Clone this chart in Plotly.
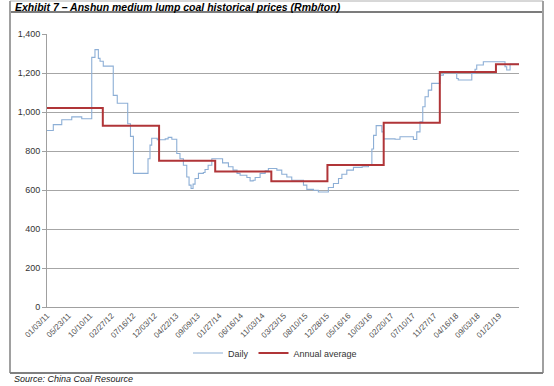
import plotly.graph_objects as go

# ---- data ----
daily_dates = [
    "2011-01-03", "2011-02-13", "2011-04-09", "2011-06-13", "2011-08-17", "2011-10-21",
    "2011-11-11", "2011-12-03", "2011-12-14", "2012-01-04", "2012-03-09", "2012-04-04",
    "2012-06-11", "2012-06-29", "2012-07-18", "2012-10-08", "2012-10-21", "2012-11-03",
    "2012-11-14", "2012-12-20", "2013-02-10", "2013-03-01", "2013-03-25", "2013-04-26",
    "2013-05-17", "2013-06-08", "2013-06-30", "2013-07-15", "2013-07-28", "2013-08-10",
    "2013-08-23", "2013-09-14", "2013-10-16", "2013-10-27", "2013-11-16", "2013-12-10",
    "2014-02-18", "2014-03-28", "2014-04-27", "2014-05-23", "2014-06-12", "2014-07-26",
    "2014-08-16", "2014-09-05", "2014-09-18", "2014-10-20", "2014-11-22", "2014-12-13",
    "2015-02-06", "2015-03-10", "2015-04-12", "2015-05-14", "2015-07-07", "2015-07-29",
    "2015-08-20", "2015-10-02", "2015-11-03", "2015-12-28", "2016-01-07", "2016-02-09",
    "2016-03-13", "2016-04-04", "2016-05-06", "2016-06-18", "2016-08-14", "2016-09-24",
    "2016-10-16", "2016-10-27", "2016-11-13", "2016-12-09", "2016-12-20", "2016-12-31",
    "2017-03-16", "2017-04-17", "2017-07-13", "2017-08-04", "2017-08-25", "2017-09-12",
    "2017-09-27", "2017-10-18", "2017-11-09", "2017-12-22", "2018-01-02", "2018-01-24",
    "2018-04-10", "2018-04-21", "2018-05-01", "2018-07-17", "2018-07-28", "2018-08-18",
    "2018-08-29", "2018-10-11", "2019-02-18", "2019-03-01", "2019-03-12", "2019-04-03",
    "2019-05-31",
]
daily_values = [
    905, 935, 960, 975, 965, 1280,
    1320, 1275, 1260, 1235, 1085, 1045,
    940, 875, 685, 685, 760, 830,
    865, 858, 862, 870, 860, 787,
    760, 727, 667, 625, 608, 630,
    659, 685, 690, 705, 727, 760,
    739, 719, 702, 685, 676, 664,
    647, 650, 664, 685, 698, 710,
    702, 681, 667, 650, 650, 625,
    603, 599, 590, 590, 613, 633,
    659, 681, 702, 716, 719, 727,
    810, 880, 930, 930, 898, 862,
    860, 873, 859, 898, 950, 1027,
    1078, 1112, 1147, 1147, 1189, 1201,
    1201, 1172, 1164, 1164, 1198, 1219,
    1241, 1258, 1258, 1232, 1215, 1246,
    1241,
]

avg_dates = ["2011-01-03", "2012-01-01", "2013-01-01", "2014-01-01", "2015-01-01",
             "2016-01-01", "2017-01-01", "2018-01-01", "2019-01-01", "2019-05-31"]
avg_values = [1020, 930, 750, 695, 645, 728, 945, 1205, 1245, 1245]

tick_dates = ["2011-01-03", "2011-05-23", "2011-10-10", "2012-02-27", "2012-07-16",
              "2012-12-03", "2013-04-22", "2013-09-09", "2014-01-27", "2014-06-16",
              "2014-11-03", "2015-03-23", "2015-08-10", "2015-12-28", "2016-05-16",
              "2016-10-03", "2017-02-20", "2017-07-10", "2017-11-27", "2018-04-16",
              "2018-09-03", "2019-01-21"]
tick_labels = ["01/03/11", "05/23/11", "10/10/11", "02/27/12", "07/16/12",
               "12/03/12", "04/22/13", "09/09/13", "01/27/14", "06/16/14",
               "11/03/14", "03/23/15", "08/10/15", "12/28/15", "05/16/16",
               "10/03/16", "02/20/17", "07/10/17", "11/27/17", "04/16/18",
               "09/03/18", "01/21/19"]

title_text = "Exhibit 7 – Anshun medium lump coal historical prices (Rmb/ton)"
source_text = "Source: China Coal Resource"

FONT = "Liberation Sans, Arial, sans-serif"

fig = go.Figure()
fig.add_trace(go.Scatter(
    x=daily_dates, y=daily_values, name="Daily", mode="lines",
    line=dict(color="#8DAFD6", width=1.1, shape="hv"),
))
fig.add_trace(go.Scatter(
    x=avg_dates, y=avg_values, name="Annual average", mode="lines",
    line=dict(color="#B03538", width=2, shape="hv"),
))

L, R, T, B = 47, 35, 34, 79
W, H = 554, 386
pw, ph = W - L - R, H - T - B


def px(x):
    return (x - L) / pw


def py(y):
    return (H - B - y) / ph


fig.update_layout(
    width=W, height=H,
    margin=dict(l=L, r=R, t=T, b=B),
    paper_bgcolor="white", plot_bgcolor="white",
    font=dict(family=FONT, size=9, color="#333333"),
    showlegend=True,
    legend=dict(orientation="h", x=px(275), y=py(353), xanchor="center", yanchor="middle",
                font=dict(size=9, color="#333333"), bgcolor="rgba(0,0,0,0)"),
    xaxis=dict(
        type="date", range=["2011-01-03", "2019-05-31"],
        tickmode="array", tickvals=tick_dates, ticktext=tick_labels,
        tickangle=-45, tickfont=dict(size=8, color="#505050"),
        showgrid=False, showline=True, linecolor="#A0A0A0", linewidth=1,
        ticks="", zeroline=False,
    ),
    yaxis=dict(
        range=[0, 1400], dtick=200, tickformat=",",
        showgrid=True, gridcolor="#A6A6A6", gridwidth=1,
        showline=True, linecolor="#A0A0A0", linewidth=1,
        ticks="outside", ticklen=4, tickcolor="#A0A0A0",
        tickfont=dict(size=9, color="#333333"), zeroline=False,
    ),
    shapes=[
        dict(type="line", xref="paper", yref="paper", x0=px(10), x1=px(543), y0=py(1), y1=py(1),
             line=dict(color="#B0B0B0", width=1)),
        dict(type="line", xref="paper", yref="paper", x0=px(10), x1=px(543), y0=py(12), y1=py(12),
             line=dict(color="#505050", width=1.5)),
        dict(type="line", xref="paper", yref="paper", x0=px(10), x1=px(10), y0=py(1), y1=py(373),
             line=dict(color="#A0A0A0", width=2)),
        dict(type="line", xref="paper", yref="paper", x0=px(543), x1=px(543), y0=py(1), y1=py(373),
             line=dict(color="#A0A0A0", width=2)),
        dict(type="line", xref="paper", yref="paper", x0=px(10), x1=px(543), y0=py(373), y1=py(373),
             line=dict(color="#808080", width=2)),
    ],
    annotations=[
        dict(text="<b><i>" + title_text + "</i></b>", xref="paper", yref="paper",
             x=px(13), y=py(7), xanchor="left", yanchor="middle", showarrow=False,
             font=dict(family=FONT, size=10.5, color="#000000")),
        dict(text="<i>" + source_text + "</i>", xref="paper", yref="paper",
             x=px(12), y=py(379), xanchor="left", yanchor="middle", showarrow=False,
             font=dict(family=FONT, size=9, color="#222222")),
    ],
)

fig.write_html("out.html", config={"displayModeBar": False},
               post_script="document.body.style.margin='0';")
